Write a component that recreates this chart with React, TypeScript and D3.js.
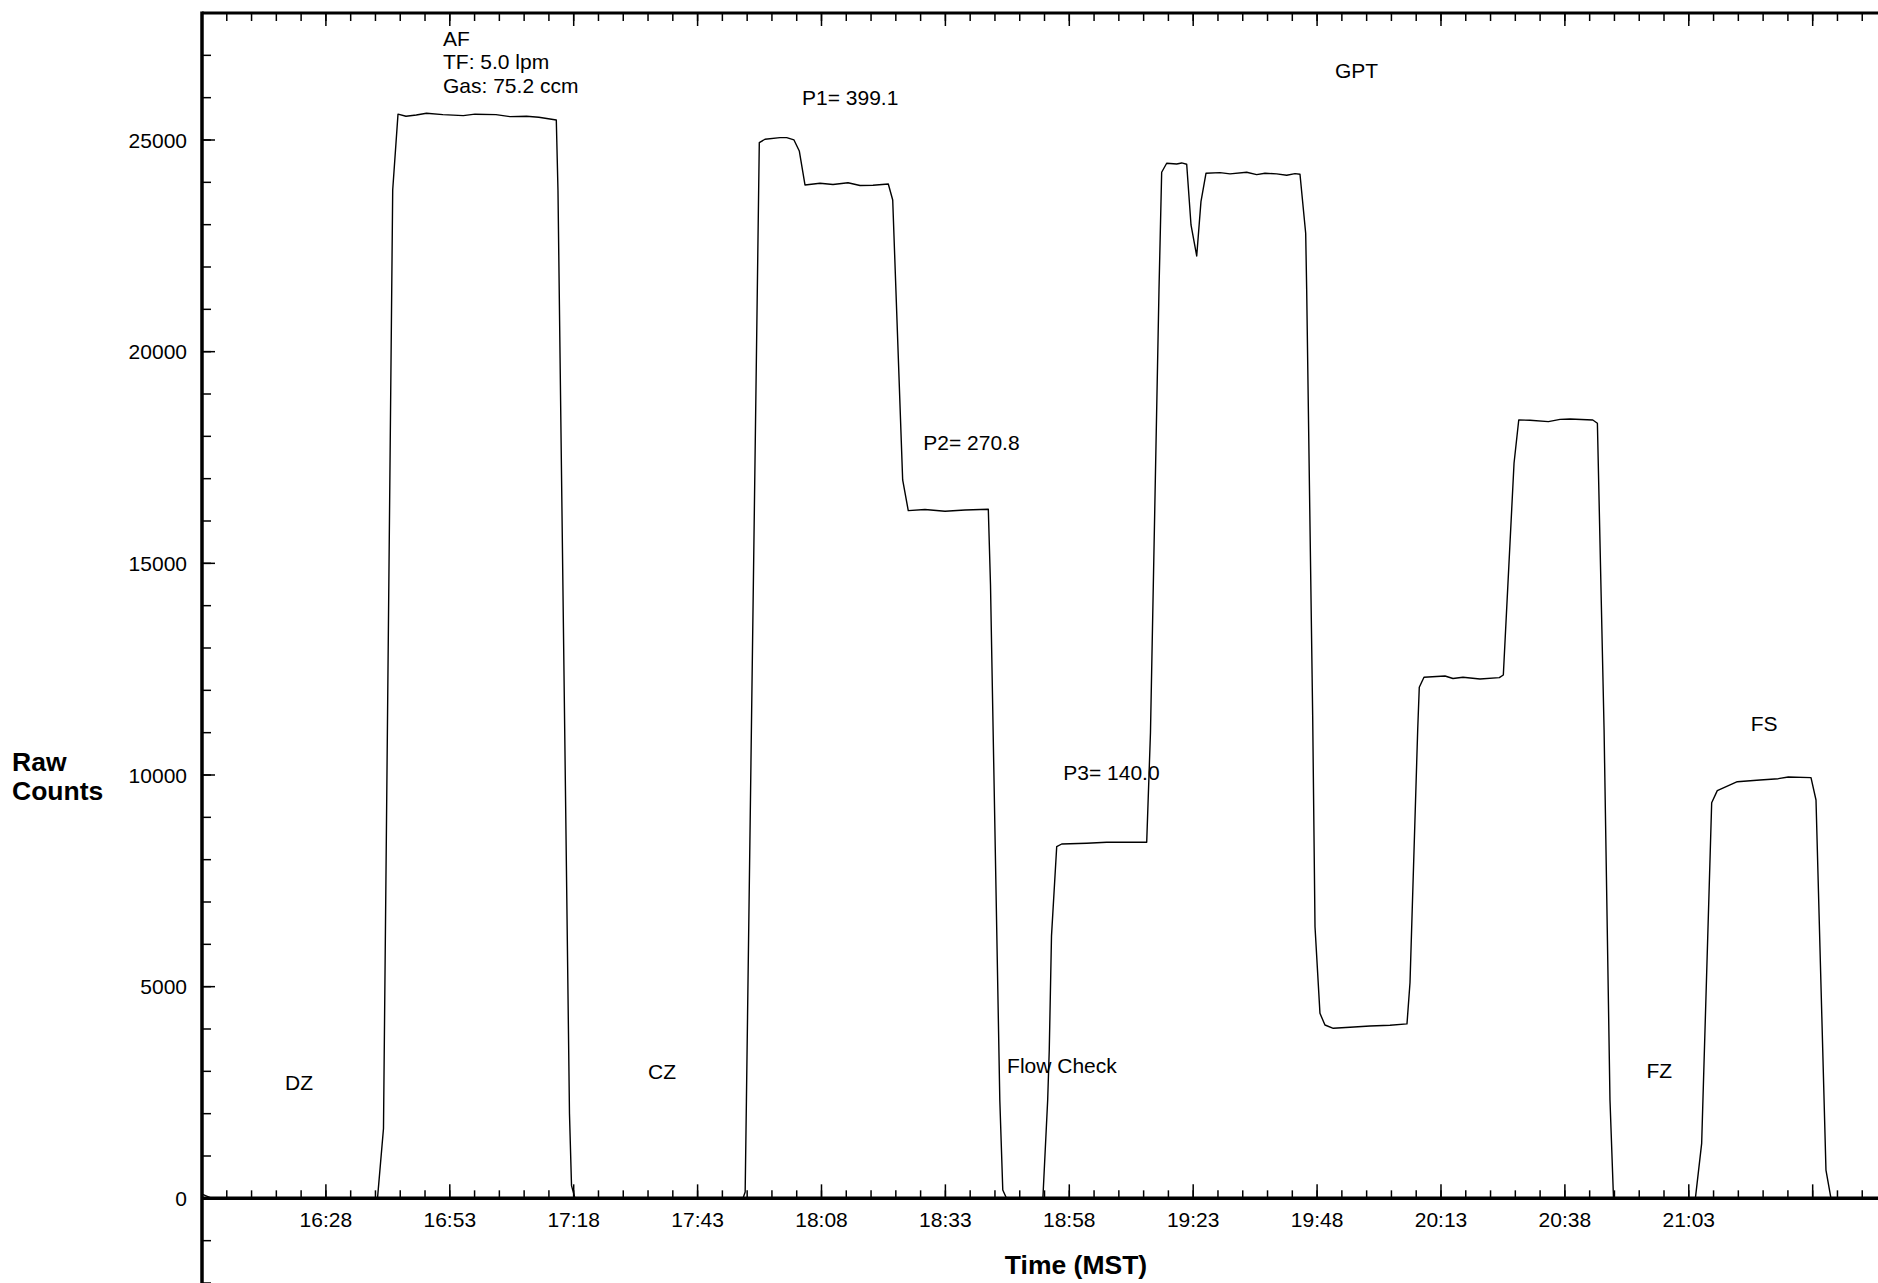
import React from 'react';
import * as d3 from 'd3';

// Time in minutes since midnight (MST), raw counts
const times = [
  963.0, 965.02, 998.41, 999.62, 1001.48, 1002.55, 1004.16, 1006.24, 1008.3, 1011.61,
  1015.72, 1018.08, 1022.32, 1025.15, 1028.48, 1030.96, 1034.49, 1034.83, 1037.15, 1037.56,
  1038.26, 1072.16, 1072.6, 1072.85, 1075.45, 1076.6, 1079.63, 1080.98, 1082.45, 1083.52,
  1084.67, 1087.7, 1090.32, 1093.35, 1095.77, 1098.39, 1101.48, 1102.37, 1104.38, 1105.51,
  1108.88, 1112.92, 1116.96, 1121.66, 1122.1, 1123.98, 1124.58, 1125.33, 1132.67, 1133.64,
  1133.96, 1134.41, 1135.46, 1136.47, 1141.51, 1145.55, 1153.62, 1154.38, 1156.1, 1156.64,
  1157.65, 1159.67, 1160.68, 1161.69, 1162.56, 1163.71, 1164.57, 1165.58, 1168.41, 1170.43,
  1173.8, 1175.81, 1177.49, 1179.85, 1181.87, 1183.55, 1184.55, 1185.7, 1185.9, 1187.11,
  1187.58, 1188.58, 1189.59, 1191.27, 1194.64, 1198.67, 1202.71, 1206.14, 1206.75, 1208.3,
  1208.62, 1209.57, 1213.81, 1215.42, 1217.44, 1220.87, 1224.77, 1225.58, 1227.74, 1228.69,
  1230.97, 1234.67, 1237.03, 1239.05, 1243.63, 1244.56, 1245.91, 1247.1, 1247.81, 1264.33,
  1265.6, 1267.62, 1268.75, 1272.79, 1277.37, 1281.06, 1283.08, 1287.66, 1288.67, 1290.68,
  1291.69, 1301.18,
];
const counts = [
  100, 0, 0, 1650, 23820, 25611, 25560, 25592, 25632, 25600,
  25576, 25610, 25600, 25552, 25560, 25537, 25474, 23800, 2000, 300,
  0, 0, 150, 2300, 24937, 25018, 25056, 25056, 25001, 24741,
  23938, 23978, 23950, 23990, 23925, 23930, 23962, 23584, 16969, 16244,
  16270, 16230, 16260, 16277, 14500, 2322, 196, 0, 0, 2322,
  3508, 6200, 8306, 8370, 8387, 8410, 8410, 11000, 21460, 24238,
  24450, 24434, 24458, 24427, 22993, 22261, 23544, 24214, 24230, 24199,
  24238, 24182, 24214, 24199, 24168, 24206, 24190, 22797, 21460, 11400,
  6416, 4370, 4094, 4016, 4040, 4070, 4090, 4120, 5100, 11063,
  12072, 12308, 12339, 12280, 12310, 12268, 12299, 12363, 17364, 18386,
  18380, 18347, 18400, 18410, 18386, 18308, 11063, 2322, 0, 0,
  1299, 9346, 9630, 9842, 9882, 9913, 9953, 9937, 9410, 669,
  0, 0,
];

const xTickLabels = ['16:28', '16:53', '17:18', '17:43', '18:08', '18:33', '18:58', '19:23', '19:48', '20:13', '20:38', '21:03'];
const yTickValues = [0, 5000, 10000, 15000, 20000, 25000];

// annotation text, anchored at (time in minutes, counts)
const annotationTexts = ['DZ', 'CZ', 'P1= 399.1', 'P2= 270.8', 'P3= 140.0', 'Flow Check', 'GPT', 'FZ', 'FS'];
const annotationTimes = [979.75, 1053.0, 1084.07, 1108.54, 1136.79, 1125.45, 1191.61, 1254.45, 1275.49];
const annotationCounts = [2560, 2818, 25834, 17678, 9882, 2960, 26473, 2842, 11046];
const afLines = ['AF', 'TF: 5.0 lpm', 'Gas: 75.2 ccm'];
const afTime = 1011.63;
const afCount = 27226;

const W = 1878;
const H = 1283;
const FONT = '"Liberation Sans", Arial, Helvetica, sans-serif';

const toMin = (s: string) => {
  const [h, m] = s.split(':').map(Number);
  return h * 60 + m;
};

export default function App() {
  const x = d3.scaleLinear().domain([963, 1301.18]).range([202, 1878]);
  const y = d3.scaleLinear().domain([-2000, 28000]).range([1283, 13]);

  const line = d3
    .line<number>()
    .x((_, i) => x(times[i]))
    .y((d) => y(d));

  const minorX = d3.range(968, 1305, 5);
  const majorX = d3.range(toMin('16:28'), 1305, 25);
  const minorY = d3.range(-2000, 28001, 1000);

  const y0 = y(0);
  const yTop = y(28000);
  const xL = x(963);

  return (
    <div style={{ position: 'absolute', left: 0, top: 0 }}>
      <svg width={W} height={H} style={{ display: 'block', background: '#fff' }} fontFamily={FONT}>
        <rect x={0} y={0} width={W} height={H} fill="#fff" />
        {/* data line */}
        <path d={line(counts) || ''} fill="none" stroke="#000" strokeWidth={1.4} strokeLinejoin="round" />

        {/* x minor ticks bottom + top */}
        {minorX.map((t) => (
          <g key={'mx' + t}>
            <line x1={x(t)} x2={x(t)} y1={y0} y2={y0 - 8} stroke="#000" strokeWidth={1.5} />
            <line x1={x(t)} x2={x(t)} y1={yTop} y2={yTop + 8} stroke="#000" strokeWidth={1.5} />
          </g>
        ))}
        {majorX.map((t) => (
          <g key={'Mx' + t}>
            <line x1={x(t)} x2={x(t)} y1={y0} y2={y0 - 14} stroke="#000" strokeWidth={1.5} />
            <line x1={x(t)} x2={x(t)} y1={yTop} y2={yTop + 13} stroke="#000" strokeWidth={1.5} />
          </g>
        ))}
        {xTickLabels.map((s) => (
          <text key={'xl' + s} x={x(toMin(s))} y={1227} textAnchor="middle" fontSize={21} fill="#000">
            {s}
          </text>
        ))}

        {/* y ticks */}
        {minorY.map((v) => (
          <line key={'my' + v} x1={xL} x2={xL + 9} y1={y(v)} y2={y(v)} stroke="#000" strokeWidth={1.5} />
        ))}
        {yTickValues.map((v) => (
          <g key={'Ly' + v}>
            <line x1={xL} x2={xL + 13} y1={y(v)} y2={y(v)} stroke="#000" strokeWidth={1.5} />
            <text x={187} y={y(v)} dy="0.36em" textAnchor="end" fontSize={21} fill="#000">
              {v}
            </text>
          </g>
        ))}

        {/* axis lines */}
        <line x1={xL} x2={W + 10} y1={y0} y2={y0} stroke="#000" strokeWidth={3.5} />
        <line x1={xL} x2={W + 10} y1={yTop} y2={yTop} stroke="#000" strokeWidth={3} />
        <line x1={xL} x2={xL} y1={yTop - 1.5} y2={H + 5} stroke="#000" strokeWidth={3.5} />

        {/* annotations */}
        {annotationTexts.map((s, i) => (
          <text key={'an' + i} x={x(annotationTimes[i])} y={y(annotationCounts[i])} fontSize={21} fill="#000">
            {s}
          </text>
        ))}
        <text x={x(afTime)} y={y(afCount)} fontSize={21} fill="#000">
          {afLines.map((s, i) => (
            <tspan key={s} x={x(afTime)} dy={i === 0 ? 0 : 23.5}>
              {s}
            </tspan>
          ))}
        </text>

        {/* axis titles */}
        <text x={12} y={771} fontSize={26.5} fontWeight="bold" fill="#000">
          Raw
        </text>
        <text x={12} y={800} fontSize={26.5} fontWeight="bold" fill="#000">
          Counts
        </text>
        <text x={1076} y={1274} textAnchor="middle" fontSize={26.5} fontWeight="bold" fill="#000">
          Time (MST)
        </text>
      </svg>
    </div>
  );
}
